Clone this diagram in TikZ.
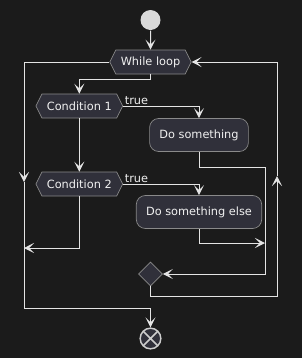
\documentclass[tikz,border=0pt]{standalone}
\usepackage{fontspec}
\setmainfont{DejaVu Sans}
\usetikzlibrary{arrows.meta,shapes.geometric,shapes.symbols}
\definecolor{sfondo}{HTML}{1B1B1B}
\definecolor{riemp}{HTML}{30303A}
\definecolor{bordo}{HTML}{8A8A8A}
\definecolor{linea}{HTML}{E4E4E4}
\definecolor{testo}{HTML}{F0F0F0}
\begin{document}
\begin{tikzpicture}[x=0.75pt, y=-0.75pt,
			>={Stealth[length=7.5pt,width=7.5pt,inset=3.6pt]}, line width=0.75pt,
			freccia/.style={->, draw=linea},
			attivita/.style={rectangle, rounded corners=6.75pt, fill=riemp,
				draw=bordo, line width=0.5pt, text=testo,
				minimum height=24.75pt, inner xsep=7.3pt, inner ysep=0pt,
				font=\fontsize{8.5}{10}\selectfont},
			cond/.style={shape=signal, signal to=west and east,
				signal pointer angle=127, fill=riemp, draw=bordo,
				line width=0.5pt, text=testo, minimum height=18pt,
				inner xsep=3.7pt, inner ysep=0pt,
				font=\fontsize{8.5}{10}\selectfont},
			fusione/.style={diamond, fill=riemp, draw=bordo,
				line width=0.5pt, minimum size=18pt, inner sep=0pt},
			inizio/.style={circle, fill=linea!95!black, inner sep=0pt,
				minimum size=15pt},
			fine/.style={circle, fill=riemp, draw=linea!90!black,
				line width=1.1pt, inner sep=0pt, minimum size=15.5pt,
				path picture={\draw[linea!90!black, line width=1.1pt]
					(path picture bounding box.north west) -- (path picture bounding box.south east)
					(path picture bounding box.north east) -- (path picture bounding box.south west);}},
			etich/.style={text=testo, inner sep=1pt,
				font=\fontsize{8.5}{10}\selectfont}]
			\def\xC{150.5}
			
			%% sfondo
			\fill[sfondo] (0,0) rectangle (302,358);
			
			%% nodi
			\node[inizio] (start) at (\xC,20) {};
			\node[cond] (loop) at (\xC,62) {While loop};
			\node[cond] (cond1) at (79.3,106) {Condition 1};
			\node[attivita] (act1) at (199,135) {Do something};
			\node[cond] (cond2) at (79.3,184) {Condition 2};
			\node[attivita] (act2) at (199,212) {Do something else};
			\node[fusione] (merge) at (\xC,274) {};
			\node[fine] (stop) at (\xC,338.5) {};
			
			%% punti di passaggio
			\coordinate (sx1) at (24,182);
			\coordinate (sx2) at (24,308);
			\coordinate (sx3) at (24,248);
			\coordinate (dx1) at (265,167);
			\coordinate (dx2) at (265,243);
			\coordinate (rit1) at (277,296);
			\coordinate (rit2) at (277,176);
			
			%% collegamenti
			\draw[freccia] (start) -- (loop);
			\draw[freccia] (loop.south) -- ++(0,5) -| (cond1.north);
			\draw[freccia] (cond1.east) -| (act1.north);
			\node[etich, anchor=south west] (t1) at (cond1.east) {true};
			\draw[freccia] (cond1.south) -- (cond2.north);
			\draw[freccia] (cond2.east) -| (act2.north);
			\node[etich, anchor=south west] (t2) at (cond2.east) {true};
			\draw[freccia] (act1.south) |- (dx1) |- (merge.east);
			\draw[freccia] (act2.south) |- (dx2);
			\draw[freccia] (cond2.south) |- (sx3);
			
			%% uscita dal ciclo
			\draw[freccia] (loop.west) -| (sx1);
			\draw[freccia] (sx1) -- (sx2) -| (stop.north);
			
			%% ritorno al ciclo
			\draw[freccia] (merge.south) |- (rit1) -- (rit2);
			\draw[freccia] (rit2) |- (loop.east);
		\end{tikzpicture}
\end{document}
